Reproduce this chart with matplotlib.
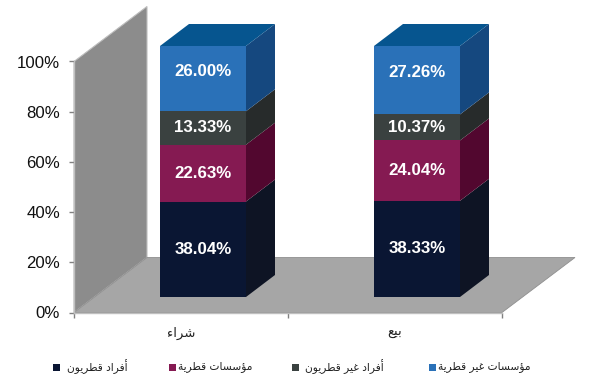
import matplotlib
matplotlib.use('Agg')
import matplotlib.pyplot as plt
from matplotlib.patches import Rectangle

categorias = ['شراء', 'بيع']
series = ['أفراد قطريون', 'مؤسسات قطرية', 'أفراد غير قطريون', 'مؤسسات غير قطرية']
afrad_qatar = [38.04, 38.33]
muassasat_qatar = [22.63, 24.04]
afrad_ghair = [13.33, 10.37]
muassasat_ghair = [26.00, 27.26]
valores = [afrad_qatar, muassasat_qatar, afrad_ghair, muassasat_ghair]
y_ticks = [0, 20, 40, 60, 80, 100]

color_frente = ['#0A1633', '#851A52', '#3A4140', '#2A71B8']
color_lado = ['#0E1424', '#52072F', '#272B2B', '#15487F']
color_tope = '#06558F'

# matplotlib no da forma al arabe: se pasa a formas de presentacion y se invierte
DOBLE = {'ب': 0xFE8F, 'ت': 0xFE95, 'س': 0xFEB1, 'ش': 0xFEB5, 'ط': 0xFEC1, 'ع': 0xFEC9,
         'غ': 0xFECD, 'ف': 0xFED1, 'ق': 0xFED5, 'م': 0xFEE1, 'ن': 0xFEE5, 'ي': 0xFEF1}
DERECHA = {'أ': 0xFE83, 'ؤ': 0xFE85, 'ا': 0xFE8D, 'ة': 0xFE93, 'د': 0xFEA9, 'ر': 0xFEAD, 'و': 0xFEED}

def arabe(texto):
    salida = []
    for i, c in enumerate(texto):
        prev = texto[i - 1] if i > 0 else ''
        sig = texto[i + 1] if i + 1 < len(texto) else ''
        une_prev = prev in DOBLE
        une_sig = c in DOBLE and (sig in DOBLE or sig in DERECHA)
        if c in DOBLE:
            forma = {(False, False): 0, (True, False): 1, (False, True): 2, (True, True): 3}[(une_prev, une_sig)]
            salida.append(chr(DOBLE[c] + forma))
        elif c in DERECHA:
            salida.append(chr(DERECHA[c] + (1 if une_prev else 0)))
        elif c == 'ء':
            salida.append(chr(0xFE80))
        else:
            salida.append(c)
    return ''.join(reversed(salida))

W, H = 590, 388
fig = plt.figure(figsize=(W / 100, H / 100), dpi=100)
ax = fig.add_axes([74 / W, 1 - 312.5 / H, 428 / W, 251 / H])
ax.set_xlim(-0.5, 1.5)
ax.set_ylim(0, 100)

px_x = 214.0  # pixeles por categoria
px_y = 2.51   # pixeles por punto porcentual

# pared y suelo en perspectiva
pared_dx, pared_dy = 73 / px_x, 55 / px_y
x0, x1 = ax.get_xlim()
ax.fill([x0, x0 + pared_dx, x0 + pared_dx, x0], [0, pared_dy, 100 + pared_dy, 100],
        color='#8C8C8C', ec='#BDBDBD', lw=0.8, clip_on=False, zorder=1)
ax.fill([x0, x1, x1 + pared_dx, x0 + pared_dx], [0, 0, pared_dy, pared_dy],
        color='#A6A6A6', ec='#8F8F8F', lw=0.6, clip_on=False, zorder=1)

# barras apiladas con cara lateral y tapa
ancho = 86 / px_x
bar_dx, bar_dy = 22 / px_x, 15.5 / px_y
prof_dx, prof_dy = 29 / px_x, 22 / px_y
sube_etiqueta = [0, 0, 0, 7.5 / px_y]  # la etiqueta de arriba va mas alta que el centro
for i in range(len(categorias)):
    base = bar_dy
    izq = i + bar_dx - ancho / 2
    der = izq + ancho
    for s, vals in enumerate(valores):
        v = vals[i]
        ax.bar(i + bar_dx, v, width=ancho, bottom=base, color=color_frente[s],
               clip_on=False, zorder=3)
        ax.fill([der, der + prof_dx, der + prof_dx, der],
                [base, base + prof_dy, base + v + prof_dy, base + v],
                color=color_lado[s], lw=0, clip_on=False, zorder=3)
        ax.text(i + bar_dx, base + v / 2 + sube_etiqueta[s], f'{v:.2f}%', color='white',
                ha='center', va='center', fontsize=12.2, fontweight='bold',
                family='Liberation Sans', zorder=4)
        base += v
    ax.fill([izq, der, der + prof_dx, izq + prof_dx], [base, base, base + prof_dy, base + prof_dy],
            color=color_tope, lw=0, clip_on=False, zorder=3)

for lado in ['top', 'right']:
    ax.spines[lado].set_visible(False)
for lado in ['left', 'bottom']:
    ax.spines[lado].set_color('#BFBFBF')
    ax.spines[lado].set_linewidth(1.0)
    ax.spines[lado].set_zorder(2)

ax.set_yticks(y_ticks)
ax.set_yticklabels([f'{t}%' for t in y_ticks], fontsize=12.1, family='Liberation Sans', color='#111111')
ax.tick_params(axis='y', length=3.6, width=1, color='#808080', pad=6.5)

ax.set_xticks(range(len(categorias)))
ax.set_xticklabels([arabe(c) for c in categorias], fontsize=9.5, family='DejaVu Sans', color='#222222')
ax.set_xticks([-0.5, 0.5, 1.5], minor=True)
ax.tick_params(axis='x', which='major', length=0, pad=10)
ax.tick_params(axis='x', which='minor', length=3.6, width=1, color='#808080')

# leyenda a mano: los huecos del original no son iguales
x_cuadro = [53, 169, 292, 429]
x_texto = [67, 178, 305, 438]
y_leyenda = 367
for c, n, xc, xt in zip(color_frente, series, x_cuadro, x_texto):
    fig.add_artist(Rectangle((xc / W, 1 - (y_leyenda + 3.5) / H), 7 / W, 7 / H, facecolor=c,
                             lw=0, transform=fig.transFigure))
    fig.text(xt / W, 1 - y_leyenda / H, arabe(n), ha='left', va='center', fontsize=7.7,
             family='DejaVu Sans', color='#222222')

fig.savefig('out.png', dpi=100, facecolor='white')
